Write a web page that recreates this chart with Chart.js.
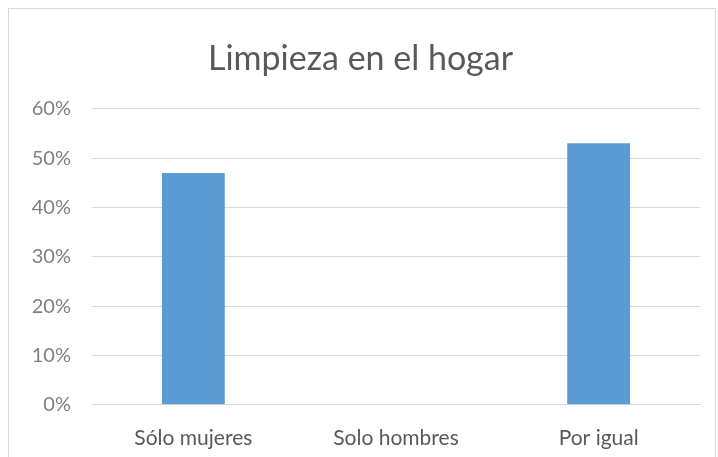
<!DOCTYPE html>
<html>
<head>
<meta charset="utf-8">
<script src="https://cdn.jsdelivr.net/npm/chart.js@4"></script>
<style>
    body { margin: 0; background: #fff; overflow: hidden; }
    #frame { position: absolute; left: 8px; top: 8px; width: 706px; height: 480px; border: 1px solid #d9d9d9; background: #fff; }
    #wrap { position: absolute; left: 0; top: 0; width: 706px; height: 465px; }
</style>
</head>
<body>
<div id="frame"><div id="wrap"><canvas id="chart"></canvas></div></div>
<script>
const categories = ['Sólo mujeres', 'Solo hombres', 'Por igual'];
const values = [47, 0, 53];
const yTicks = [0, 10, 20, 30, 40, 50, 60];

Chart.defaults.font.family = "Lato, 'Open Sans', sans-serif";
Chart.defaults.color = '#7f7f7f';

new Chart(document.getElementById('chart').getContext('2d'), {
    type: 'bar',
    data: {
        labels: categories,
        datasets: [{
            data: values,
            backgroundColor: '#5b9bd5',
            categoryPercentage: 1,
            barPercentage: 0.31
        }]
    },
    options: {
        responsive: true,
        maintainAspectRatio: false,
        animation: false,
        layout: { padding: { left: 12, right: 15, top: 0, bottom: 10 } },
        plugins: {
            legend: { display: false },
            tooltip: { enabled: false },
            title: {
                display: true,
                text: 'Limpieza en el hogar',
                color: '#595959',
                font: { size: 34, weight: 'normal' },
                padding: { top: 30, bottom: 29 }
            }
        },
        scales: {
            x: {
                grid: { display: false },
                border: { color: '#d9d9d9' },
                ticks: { font: { size: 21 }, color: '#595959', padding: 13 }
            },
            y: {
                min: 0,
                max: 60,
                afterBuildTicks: axis => { axis.ticks = yTicks.map(v => ({ value: v })); },
                afterFit: axis => { axis.width = 71; },
                grid: { color: '#d9d9d9', drawTicks: false },
                border: { display: false },
                ticks: { font: { size: 20 }, color: '#7f7f7f', padding: 21, callback: v => v + '%' }
            }
        }
    }
});
</script>
</body>
</html>
